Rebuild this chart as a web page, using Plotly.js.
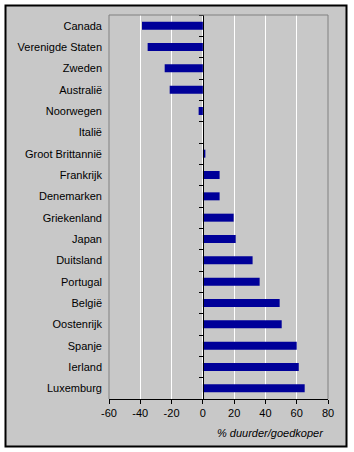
<!DOCTYPE html>
<html>
<head>
<meta charset="utf-8">
<script src="https://cdn.plot.ly/plotly-3.0.1.min.js"></script>
<style>
html,body{margin:0;padding:0;background:#ffffff;}
#chart{width:354px;height:452px;}
</style>
</head>
<body>
<div id="chart"></div>
<script>
const countries = ["Canada","Verenigde Staten","Zweden","Australië","Noorwegen","Italië","Groot Brittannië","Frankrijk","Denemarken","Griekenland","Japan","Duitsland","Portugal","België","Oostenrijk","Spanje","Ierland","Luxemburg"];
const values = [-38.9,-35.3,-24.4,-21.2,-2.7,0,1.6,10.7,10.7,19.7,21,31.8,36.3,49.1,50.4,60,61.3,65.1];
const xTicks = [-60,-40,-20,0,20,40,60,80];
const xTitle = "% duurder/goedkoper";

const W = 354, H = 452;
const m = {l:109, r:26, t:15, b:53};
const pw = W - m.l - m.r, ph = H - m.t - m.b;
const px = v => (v - m.l) / pw;
const py = v => (H - m.b - v) / ph;
const xMin = xTicks[0], xMax = xTicks[xTicks.length-1];
const nCat = countries.length;

const font = {family: "'Liberation Sans', Arial, sans-serif", size: 11, color: "#000"};

const traces = [
  {type:"bar", orientation:"h", x: values, y: countries, marker:{color:"#000099"}, hoverinfo:"x+y", showlegend:false},
  {type:"scatter", mode:"markers", x: countries.map(()=>0), y: countries, yaxis:"y2", marker:{opacity:0}, hoverinfo:"skip", showlegend:false}
];

const layout = {
  width: W, height: H,
  margin: m,
  paper_bgcolor: "#ffffff",
  plot_bgcolor: "#c8c8c8",
  font: font,
  bargap: 0.625,
  xaxis: {
    range: [xMin, xMax], tickvals: xTicks, ticktext: xTicks.map(String),
    showgrid: true, gridcolor: "#ffffff", gridwidth: 1,
    zeroline: false, showline: true, linecolor: "#000", linewidth: 1,
    ticks: "outside", ticklen: 4, tickcolor: "#000", fixedrange: true
  },
  yaxis: {
    type: "category", categoryorder: "array", categoryarray: countries,
    range: [nCat - 0.5, -0.5], showgrid: false, zeroline: false, showline: false,
    ticks: "", ticklabelstandoff: 6, fixedrange: true
  },
  yaxis2: {
    type: "category", categoryorder: "array", categoryarray: countries,
    range: [nCat - 0.5, -0.5], overlaying: "y", anchor: "free",
    position: (0 - xMin) / (xMax - xMin),
    showgrid: false, zeroline: false, showline: true, linecolor: "#000", linewidth: 1,
    ticks: "outside", ticklen: 4, tickcolor: "#000", tickson: "boundaries",
    showticklabels: false, fixedrange: true
  },
  shapes: [
    {type:"rect", xref:"paper", yref:"paper", layer:"below",
     x0: px(5.5), x1: px(346.5), y0: py(446.5), y1: py(5.5),
     fillcolor:"#c8c8c8", line:{color:"#000", width:2}},
    {type:"path", xref:"paper", yref:"paper", layer:"above",
     path:"M0,0 L0,1 L1,1 L1,0", line:{color:"#808080", width:1}}
  ],
  annotations: [
    {xref:"paper", yref:"paper", x: px(326), y: py(433), xanchor:"right", yanchor:"middle",
     text: "<i>" + xTitle + "</i>", showarrow:false, font: font}
  ]
};

Plotly.newPlot("chart", traces, layout, {displayModeBar:false, staticPlot:true});
</script>
</body>
</html>
